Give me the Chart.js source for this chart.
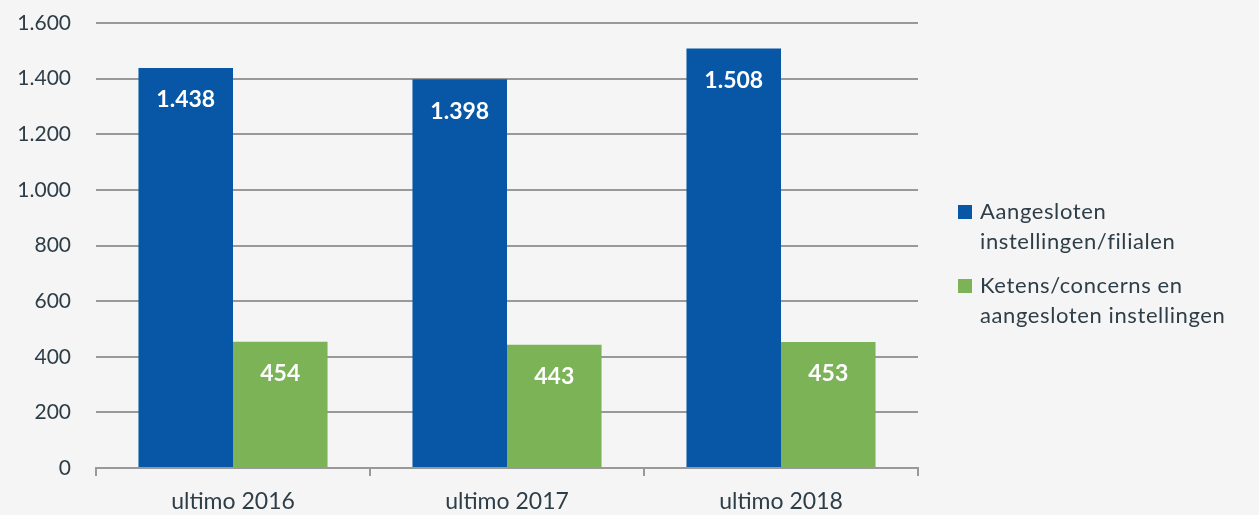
<!DOCTYPE html>
<html>
<head>
<meta charset="utf-8">
<script src="https://cdn.jsdelivr.net/npm/chart.js@4"></script>
<style>
  html, body { margin: 0; padding: 0; background: #f5f5f5; }
  #wrap { position: relative; width: 1259px; height: 515px; }
  #legend { position: absolute; left: 958px; top: 196px; font-family: Lato, sans-serif; font-size: 22px; letter-spacing: 0.6px; color: #2e3e48; line-height: 30px; }
  .item { display: flex; align-items: flex-start; margin-bottom: 14px; }
  .box { width: 14px; height: 14px; margin-top: 9px; margin-right: 8px; flex: none; }
</style>
</head>
<body>
<div id="wrap">
  <canvas id="chart" width="1259" height="515"></canvas>
  <div id="legend"></div>
</div>
<script>
const categories = ['ultimo 2016', 'ultimo 2017', 'ultimo 2018'];
const filialen = [1438, 1398, 1508];
const ketens = [454, 443, 453];
const seriesNames = [['Aangesloten', 'instellingen/filialen'], ['Ketens/concerns en', 'aangesloten instellingen']];
const seriesColors = ['#0757a6', '#7bb356'];
const yTicks = [0, 200, 400, 600, 800, 1000, 1200, 1400, 1600];

const textColor = '#2e3e48';
const fmt = (v) => String(v).replace(/\B(?=(\d{3})+(?!\d))/g, '.');

// white value labels inside the top of each bar
const barLabels = {
  id: 'barLabels',
  afterDatasetsDraw(chart) {
    const ctx = chart.ctx;
    ctx.save();
    ctx.fillStyle = '#ffffff';
    ctx.font = 'bold 23px Lato, sans-serif';
    ctx.textAlign = 'center';
    ctx.textBaseline = 'middle';
    chart.data.datasets.forEach((ds, i) => {
      chart.getDatasetMeta(i).data.forEach((bar, j) => {
        ctx.fillText(fmt(ds.data[j]), bar.x, bar.y + 32);
      });
    });
    ctx.restore();
  }
};

new Chart(document.getElementById('chart'), {
  type: 'bar',
  data: {
    labels: categories,
    datasets: [
      { label: seriesNames[0].join(' '), data: filialen, backgroundColor: seriesColors[0] },
      { label: seriesNames[1].join(' '), data: ketens, backgroundColor: seriesColors[1] },
    ],
  },
  options: {
    responsive: false,
    animation: false,
    layout: { padding: { top: 23, right: 341, left: 0, bottom: 0 } },
    plugins: { legend: { display: false }, tooltip: { enabled: false } },
    datasets: { bar: { barPercentage: 1, categoryPercentage: 0.69 } },
    scales: {
      x: {
        grid: { display: true, drawOnChartArea: false, offset: true, color: '#999999', lineWidth: 2, tickLength: 8 },
        border: { color: '#999999', width: 2 },
        ticks: { color: textColor, font: { family: 'Lato', size: 23 }, padding: 12 },
        afterFit(s) { s.height = 47; s.paddingLeft = 0; s.paddingRight = 0; },
      },
      y: {
        min: 0,
        max: 1600,
        afterBuildTicks(s) { s.ticks = yTicks.map((v) => ({ value: v })); },
        grid: { color: '#999999', lineWidth: 2, drawTicks: false },
        border: { display: false },
        ticks: { color: textColor, font: { family: 'Lato', size: 21 }, padding: 25, callback: (v) => fmt(v) },
        afterFit(s) { s.width = 96; s.paddingTop = 0; s.paddingBottom = 0; },
      },
    },
  },
  plugins: [barLabels],
});

// legend with wrapped labels
const legend = document.getElementById('legend');
seriesNames.forEach((lines, i) => {
  const item = document.createElement('div');
  item.className = 'item';
  item.innerHTML = `<div class="box" style="background:${seriesColors[i]}"></div><div>${lines.join('<br>')}</div>`;
  legend.appendChild(item);
});
</script>
</body>
</html>
